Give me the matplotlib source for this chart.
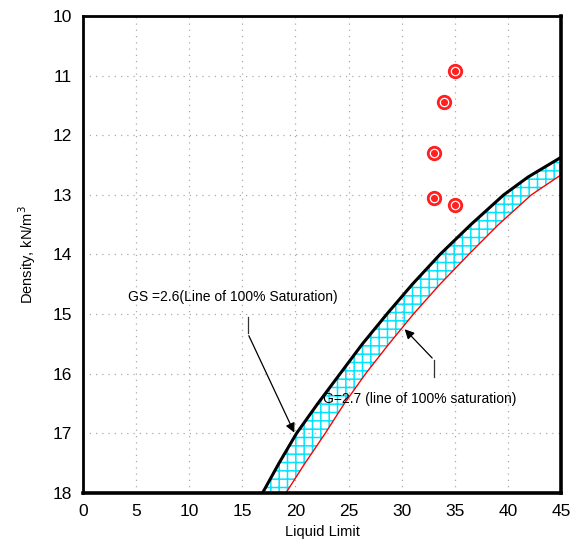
import matplotlib.pyplot as plt

plt.rcParams['font.family'] = ['Liberation Sans', 'DejaVu Sans']
plt.rcParams['hatch.linewidth'] = 1.1

# density levels (kN/m3) and liquid limit along each saturation line
density = [18.0, 17.5, 17.0, 16.5, 16.0, 15.5, 15.0, 14.5, 14.0, 13.5, 13.0, 12.7, 12.37, 12.0]
gs26_ll = [16.9, 18.45, 20.1, 22.1, 24.2, 26.3, 28.6, 31.0, 33.6, 36.5, 39.6, 41.9, 45.0, 48.3]
gs27_ll = [19.1, 20.9, 22.8, 24.6, 26.6, 28.8, 31.1, 33.6, 36.3, 39.1, 42.2, 44.7, 48.0, 51.8]

# soil samples
sample_ll = [35, 34, 33, 33, 35]
sample_density = [10.93, 11.45, 12.30, 13.06, 13.17]

fig = plt.figure(figsize=(5.82, 5.48), dpi=100)
ax = fig.add_axes([0.1426, 0.1004, 0.8214, 0.8704])

ax.fill_betweenx(density, gs26_ll, gs27_ll, facecolor='none', edgecolor='#00e5ff',
                 hatch='++', linewidth=0)
ax.plot(gs26_ll, density, color='black', lw=2.2)
ax.plot(gs27_ll, density, color='red', lw=1.0)

ax.plot(sample_ll, sample_density, 'o', color='#ff2020', ms=10, zorder=5)
ax.plot(sample_ll, sample_density, 'o', mfc='none', mec='white', ms=6, mew=0.9, zorder=6)

# annotations with bent leader lines
ax.text(4.2, 14.72, 'GS =2.6(Line of 100% Saturation)', fontsize=10, va='center')
ax.plot([15.5, 15.5], [15.05, 15.32], color='#333333', lw=0.9)
ax.annotate('', xy=(20.0, 17.03), xytext=(15.5, 15.32),
            arrowprops=dict(arrowstyle='-|>', color='black', lw=0.9, mutation_scale=14))

ax.text(22.6, 16.42, 'G=2.7 (line of 100% saturation)', fontsize=10, va='center')
ax.plot([33.05, 33.05], [16.06, 15.77], color='#333333', lw=0.9)
ax.annotate('', xy=(30.1, 15.22), xytext=(33.05, 15.77),
            arrowprops=dict(arrowstyle='-|>', color='black', lw=0.9, mutation_scale=14))

ax.set_xlim(0, 45)
ax.set_ylim(18, 10)
ax.set_xticks(range(0, 46, 5))
ax.set_yticks(range(10, 19))
ax.tick_params(length=0, labelsize=12.5, pad=8)
ax.grid(True, color='#aaaaaa', linestyle=(0, (1, 4)), lw=0.9)
for name, s in ax.spines.items():
    s.set_linewidth(2.6 if name in ('right', 'bottom') else 2)

ax.set_xlabel('Liquid Limit', fontsize=10.5, labelpad=4)
ax.set_ylabel('Density, kN/m$^3$', fontsize=10.5, labelpad=10)

fig.savefig('out.png', dpi=100)
